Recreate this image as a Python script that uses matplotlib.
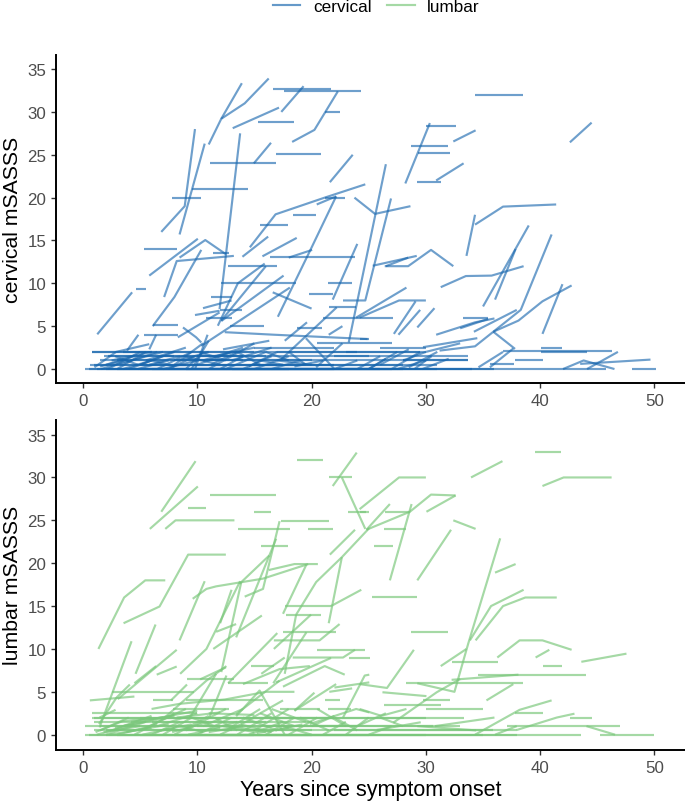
import matplotlib
matplotlib.use("Agg")
import matplotlib.pyplot as plt
from matplotlib.lines import Line2D

plt.rcParams['font.family'] = ['Liberation Sans', 'DejaVu Sans']

# ---- data: (years, score) ----
cervical_paths = [
 [(1.25,4.05),(4.3,8.95)], [(5.8,10.9),(10.05,15.2)], [(7.1,8.4),(8.2,12.6),(13.2,13.2)],
 [(8.45,13),(10.7,15.05),(12.5,13.4)], [(6.85,16),(8.9,19),(9.8,28)], [(8.45,15.7),(10.65,26.3)],
 [(11,26.2),(12.1,29.2),(14.15,31),(16.25,33.9)], [(12.1,29.2),(13.9,33.35)], [(13.1,28.1),(17.15,30.5)],
 [(17.35,30),(19.3,33)], [(18.3,26.5),(20.25,27.9),(22.3,32.4)], [(14.95,24),(16.45,26.4)],
 [(11.95,7),(13.75,27.5)], [(21.6,21.8),(23.6,25)], [(14.6,14.2),(16.85,18.05),(21.15,20),(24.7,21.55)],
 [(20.45,19.2),(22.15,20.15)], [(17.05,6.1),(19.9,13.9),(22.15,20.15)], [(13.95,13.1),(16.2,15.45)],
 [(15.7,13.15),(18.7,15.3)], [(18,13),(20.05,13.9)], [(11.8,5.05),(13.55,10),(15.9,12.3)],
 [(12.1,5.65),(16,12)], [(12.1,5.6),(17.55,10.9)], [(10.35,2.7),(18.1,9.5)], [(16.6,8.95),(20,7.05)],
 [(21.85,8.1),(24,14.6)], [(22.75,8),(24.7,8),(26.95,19.9)], [(23.25,3.1),(26.5,23.9)],
 [(6.1,5),(8,8.4),(10.35,13.9)], [(3.85,2.15),(4.85,4)], [(5.8,2.3),(6.4,4)], [(8.3,3.7),(11.95,6.6)],
 [(9.8,6.3),(11.95,6.8)], [(10.5,7.1),(13,8)], [(8.75,4.85),(9.9,3.7),(10.35,3.1)],
 [(12.4,4.3),(16.75,4),(24.9,3.5)], [(17.65,3.3),(19.6,5.45)], [(21.5,4),(22.7,5)], [(17.35,1.15),(22.2,7.2)],
 [(23.9,6),(28.3,9.5)], [(24.2,6),(27.65,8),(30,8)], [(23.75,20),(25.55,18.1),(28.65,19)],
 [(25.35,12.05),(29.2,13.2)], [(26.4,12),(28.45,12),(30.45,13.9),(32.4,12)], [(26.5,12),(28.45,13)],
 [(28.2,21.65),(30.35,28.7)], [(32.4,26.55),(34.35,27.85)], [(30.9,22),(33.3,24)], [(42.6,26.45),(44.5,28.75)],
 [(33.55,13.2),(34.3,18)], [(34.3,16.85),(36.75,18.95),(41.4,19.2)], [(31.3,9.55),(33.5,10.85),(35.75,10.9),(38.55,12)],
 [(35,7.3),(39,16.75)], [(36.05,8.1),(37.85,14)], [(31.2,2.15),(34.3,2.65),(38.3,6.9),(41,15.7)],
 [(34.2,4.35),(37.95,6.9)], [(35.9,4.35),(37.8,2.35)], [(35.9,4.35),(38.1,5.65),(40.2,7.9),(42.75,9.75)],
 [(40.2,4.1),(41.95,9.9)], [(29.25,4.85),(30.75,7.1)], [(27.2,4.1),(29.1,7.9)], [(27.6,4),(29.5,6.9)],
 [(30.9,4),(34.3,5.45),(36,5.9)], [(33,4.75),(35.45,5.85)], [(29.75,2.55),(34.5,3.6)],
 [(42,0),(43.8,1),(46.5,0)], [(44.1,0),(46.8,2)], [(43.5,0.6),(49.65,1.1)],
 [(34.6,0.2),(36.75,2)], [(35.6,0.2),(37.65,2.4)],
 [(1,0.2),(2.9,2),(5.8,2.9)], [(3,0),(5.5,2)], [(4,0),(7,1.5)], [(5,0.5),(8,2)], [(5.5,1),(9,2.5)],
 [(6.5,0),(9.5,2)], [(7,0),(10,1)], [(8,0.5),(10.5,3)], [(9,0),(10.5,2)], [(9.5,0),(11,3.3)], [(9.8,0),(10.9,4)],
 [(10,0.5),(13,2)], [(10.5,1),(14,2.5)], [(11,0),(15,3)], [(11.5,1.5),(15,2.5)], [(12,0),(14,1.5)],
 [(12.5,0),(16,2)], [(13,1),(16.5,2.5)], [(8.5,1),(11,2)], [(12.25,2.3),(16.3,3.3)], [(14,0),(16.5,1.5)],
 [(15.5,1),(17.5,0.5)], [(16,2),(18,1)], [(17,1),(20,0.5)], [(18,2),(19.5,0.5)], [(19.5,3.6),(22,0)],
 [(20.4,0.2),(22.7,3)], [(22,0),(24,1)], [(24,0),(26,1.5)], [(25,0),(26.5,1.2)], [(27,0),(29.5,2)],
 [(27.5,0),(30,1)], [(28,1),(30,2)], [(29,0),(30.5,1.5)], [(29.7,0),(32,1.2)], [(26,0.5),(28.5,2.3)],
 [(25,0),(27.5,2)], [(2,0.5),(4.5,1.5)], [(2.5,1),(6,2)], [(3.5,0),(6,1)], [(1.5,0.3),(3.5,1)], [(6,1),(8,0.3)],
 [(30,2),(33,3)], [(28.5,0.2),(31,2)],
 [(1.6,0),(4,1)], [(2.2,0),(5,2)], [(3.2,0.5),(6.5,2)], [(4.2,1),(7,2)], [(4.8,0),(7.5,1)], [(5.8,0.5),(8.5,1.5)],
 [(7.5,0),(9.8,1.5)], [(8.8,1.5),(12,0.5)], [(10.2,2),(12.5,1)], [(11.2,0.5),(13.5,2)], [(13.5,2),(15.5,0.5)],
 [(14.5,0.3),(17,2)], [(15,0),(18,1.5)], [(16.5,0),(19,1)], [(18.5,0.3),(21,1)], [(2.8,1.5),(4.8,0.5)],
]
cervical_flats = [  # start, end, score
 (4.6,5.5,9.3),(5.3,8.2,14),(11.4,12.8,13.5),(7.8,10.35,20),(9.55,14.45,21),(15.3,18.45,28.8),(16.6,21.7,32.7),
 (17.6,24.35,32.4),(21.2,22.5,30),(16.85,20.8,25.1),(11.1,16.9,24),(21.15,22.9,20),(18.35,20.4,18),(15.5,17.95,16.85),
 (16.4,23.8,13.1),(12.7,17,12),(12.1,18.6,10),(21.4,23.55,10),(19.75,21.9,8.75),(6.1,8.3,5.1),(5.35,8.3,4),
 (10.8,13,6),(11.2,13,8.4),(11.95,13.95,6.9),(12.9,15.85,5),(18.7,20.95,4.8),(21.55,23.85,7.2),(21,27.15,6),
 (30.05,32.6,28.4),(28.7,31.9,26),(29.35,32.15,25.2),(29.25,31.35,21.8),(34.3,38.5,32),(33.25,35.45,6),(24.2,25,3.5),
 (48,50.1,0),(40.1,41.95,2.45),(36.75,46.25,2.1),(40.1,44.1,2),(35.6,37.7,0.6),(37.8,40.25,1),
 (0.15,45.8,0),(1.2,26,0),(3,34,0),(6,22,0),(9,31,0),(13,27,0),(0.5,18,0),(2,28,0),(5,36,0),
 (0.6,22,0.5),(5,28,0.5),(15,31,0.5),(1.5,12,1),(8,20,1),(19,33.7,1),(28,33.7,1),(2.2,14,1.5),(10,25,1.5),
 (22,33.7,1.5),(0.75,10,2),(3.5,15,2),(10,24,2),(17,29.5,2),(23,30,2),(26,30,2.5),(15,22,2.5),(20.5,27,3),
 (1,9,0.5),(3,14,1),(1.8,8,1.5),(0.75,6,2),(8,17,0.5),(11,19,1),(7,16,1.5),
]

lumbar_paths = [
 [(1.35,10),(3.6,16),(5.45,18),(7.2,18)], [(3.55,13),(6.7,14.95),(9.2,21),(12.5,21)], [(6.85,26),(9.85,31.9)],
 [(5.85,24),(10.05,28.95)], [(7.2,24),(8.1,25),(13.25,25)], [(21.85,29),(23.95,32.9)], [(22.65,30),(24.7,24)],
 [(24.2,26.3),(27.65,30),(30,30)], [(21.6,21),(23.8,23.9)], [(8.5,7.1),(10.8,10),(13.75,17.9)], [(8.45,11),(10.65,17.9)],
 [(9.6,15.85),(10.8,17),(11.65,17.3),(15.75,18.2),(19.7,19.9)], [(14.15,16.1),(15.75,17),(17.2,24.9)], [(12,13),(13,16.9)],
 [(11.65,12),(13.4,12.9)], [(11.4,10),(15.65,13.9)], [(12.1,7.3),(13.85,17.8)], [(13.4,11.35),(16.9,22.85)],
 [(13.7,17.6),(16.3,20.9)], [(16.25,19.2),(18.5,19.9),(20.55,19.9)], [(17.5,14.1),(19.55,19.85)], [(21.7,15),(24.35,16.9)],
 [(21.5,13),(22.65,20.7)], [(18.65,14),(20.4,17.8),(22.65,20.7),(25.05,24.1)], [(17.65,7.1),(18.65,14)], [(16.65,6),(19.55,11.95)],
 [(16.7,10),(19.95,14)], [(16.7,11),(20.7,11),(22.45,12.9)], [(18.35,9),(22.75,9),(23.8,9.9)], [(12.7,6),(17,11.85)],
 [(15.6,7.1),(17.65,9)], [(16.9,6.1),(21.7,8.95)], [(14,5.9),(17.2,7.65),(19.85,8)], [(17.5,5.6),(21.15,8),(22.9,7)],
 [(1.4,1.25),(2.95,4.35),(4.1,5.85)], [(0.6,4),(4.5,4.45)], [(7.7,4),(9.1,5.85)], [(1.45,2),(2.85,2.9)], [(1.45,0.85),(4.25,10.9)],
 [(4.6,7.1),(6.35,12.85)], [(4.5,6),(6.4,8)], [(3.05,4.15),(8.2,9.9)], [(6.45,7),(8.2,7.95)], [(10.25,6.45),(12.5,7.85)],
 [(6,3),(8.45,3.6),(12.4,4.1),(16,5),(18.5,5)], [(7.15,2),(10.8,6.3),(12.55,8)], [(9.35,2),(11.65,7.1)], [(11.05,2),(12.55,6.9)],
 [(13.4,2.15),(15.45,5.15),(17.65,0)], [(14.85,2),(17.5,4)], [(13.4,2.4),(17.2,6.3)], [(18.5,2.8),(20.25,4.9)], [(18.5,2.8),(22.15,5.9)],
 [(22,5.5),(25.05,6.1)], [(21.55,5),(23.55,5.4)], [(22.75,2),(24.65,6.9),(25.05,7)], [(19.85,1.25),(23.9,3),(25.05,2.6)],
 [(24.8,23.9),(26.85,26.9)], [(24.8,23.9),(28.6,26),(30.45,28),(32.6,27.9)], [(26.85,18),(28.75,26.9)], [(29.25,18),(32.2,23.9)],
 [(30.05,26),(32.6,27.9)], [(33.95,30),(36.7,31.9)], [(40.2,29),(42.05,30),(46.25,30)], [(32.4,25),(34.35,24)], [(36.05,18.9),(37.85,19.9)],
 [(34.35,11),(36.75,15),(38.7,16),(41.45,16)], [(33.85,11),(35.7,15),(38.55,16.9)], [(24.2,5.9),(26.6,5.45),(28.95,9.9)],
 [(29.25,6),(32.5,5),(33.7,10.6),(36.5,22.9)], [(31.3,8),(33.55,10)], [(36.25,9),(38.2,11),(40.2,11),(42.75,9.9)], [(39.6,9),(40.8,9.9)],
 [(43.6,8.5),(47.55,9.45)], [(32.25,6.4),(38.1,7)], [(35.3,4),(37.65,5.9)], [(26.2,4.95),(30.05,4.5)], [(27.15,1.4),(30.95,4.95),(33,6.5)],
 [(34.3,0),(38.2,2.9),(41,4)], [(36.05,0),(37.95,1)], [(37.95,0.55),(41.45,2),(43,2.45)], [(44.05,1),(46.55,0)], [(24.2,3),(26.1,2.2),(28.3,3)],
 [(30.8,1),(36,2)], [(29.25,1),(34.4,0.5)], [(25.7,0.55),(29.55,1.45)],
 [(1.1,0.3),(3.5,1.6),(7,2)], [(1.5,0.5),(4,2)], [(2,0),(5.5,1.5)], [(2.5,0.5),(6,2.2)], [(3,0),(6.5,1.2)], [(3.5,1),(7.5,2)], [(4.5,0),(8,2.5)],
 [(5,0.5),(9,3)], [(6,0),(8.5,1.5)], [(6.5,1),(10,2.5)], [(7,0),(9.5,2)], [(8,0),(11,2.2)], [(8.5,1),(10.5,0.3)], [(9,0.5),(12.5,3)],
 [(9.5,2),(11.5,1)], [(10,0),(13,2)], [(10.5,1),(14,3)], [(11,0.3),(14,1)], [(11.5,2),(13.5,0.5)], [(12,0),(15,2)], [(12.5,0.5),(15.5,3)],
 [(13,1),(16,0.3)], [(13.5,0),(16.5,2.5)], [(14,2),(17,0.5)], [(14.5,0),(17.5,1.5)], [(15,0.5),(18,3)], [(15.5,2.5),(18.5,1)], [(16,0),(18.5,2)],
 [(16.5,3),(19.5,1.5)], [(17.5,1),(20,0)], [(18,0),(20.5,2)], [(19,2),(21.5,0.5)], [(20,1),(22,2.2)], [(20.5,3),(23,1)], [(21,0),(23,1.5)],
 [(22,2),(24,0.5)], [(23,0),(25,2)], [(24,1),(26.5,2.5)], [(25,0),(27,1)],[(26,2),(28,1)],
 [(1.2,0),(4.5,1.2)], [(1.8,0.3),(5,1)], [(2.3,0),(6,0.8)], [(3.8,0.3),(7.5,1.2)], [(5.2,0),(8,0.8)], [(6.8,0.5),(9.5,1.2)],
 [(7.8,0.3),(11,1.5)], [(9.2,0),(12,0.8)], [(10.8,0.5),(13.5,1.5)], [(12.2,1),(15,0.3)], [(13.8,1.2),(16.5,0.3)], [(15.2,0.2),(18,0.8)],
 [(16.8,0.5),(19.2,1.2)], [(2.8,0.8),(6.2,1.8)], [(4.2,1.5),(8,2.2)], [(6,1.8),(10,2.8)], [(8.2,2),(12,2.6)], [(11,2.5),(15,2.3)],
]
lumbar_flats = [  # start, end, score
 (9.2,10.8,26.4),(11.15,16.9,28),(14.95,16.45,26),(13.55,18.1,24),(19.7,21.85,24),(18.75,21,32),(21.55,23.55,30),(23.2,25,26),
 (15.55,17.95,22),(17.3,21.5,24.9),(17.65,21.7,15),(17.75,20.8,14),(17.5,22.15,11.95),(20.5,24.7,9.9),(23.25,25.1,9),(14.7,16.75,8),
 (12.7,16.2,6),(2.55,9.75,5),(6.1,7.9,4),(9.1,13.2,6.45),(9.05,15.75,4),(7.85,12.8,3),(17.2,20.7,3),(21.2,22.5,4),(21.45,23.45,3),
 (24.2,24.8,26),(26.4,28.6,26),(26.3,28.3,24),(25.45,27.15,22),(39.55,41.85,33),(25.3,29.25,16),(28.7,31.9,12),(32.3,36.3,8.45),
 (40.25,41.95,8),(34.6,44.05,7),(28.25,38.5,6),(29.75,32.1,4),(26.3,31.3,3.45),(30,35,3),(37.8,40.25,2.5),(42.6,44.5,2),(37.1,44.05,1),
 (44.05,47,1),(45.2,50,0),(0.15,43.6,0),(2,30,0),(5,25,0),(8,35,0),(1,20,0.5),(7,35.9,0.5),(0.15,12,1),(10,30.65,1),(1,16,1.5),
 (0.75,33.35,2),(5,22,2),(0.8,10,2.5),(0.5,15,0),(3,20,0),(12,38,0),(2,13,0.5),(1.5,24,1),(6,20,1.5),(7,30,2),(1,6,2),(16,33,1),(22,38,0.5),
]

x_ticks = [0, 10, 20, 30, 40, 50]
y_ticks = [0, 5, 10, 15, 20, 25, 30, 35]
panel_labels = ["cervical mSASSS", "lumbar mSASSS"]
legend_labels = ["cervical", "lumbar"]
x_label = "Years since symptom onset"

W, H = 685, 804
CERV, LUMB = "#1665ad", "#7ac77b"
LW = 1.55
fig = plt.figure(figsize=(W/100, H/100), dpi=100)

def make_ax(top, bottom):
    return fig.add_axes([56/W, 1-bottom/H, (W-56)/W, (bottom-top)/H])

ax1 = make_ax(56, 384)
ax2 = make_ax(421, 750.7)

def draw(ax, paths, flats, color, alpha):
    for p in paths:
        xs, ys = zip(*p)
        ax.plot(xs, ys, color=color, alpha=alpha, lw=LW, solid_capstyle='butt', solid_joinstyle='round')
    for a, b, v in flats:
        ax.plot([a, b], [v, v], color=color, alpha=alpha, lw=LW, solid_capstyle='butt')

draw(ax1, cervical_paths, cervical_flats, CERV, 0.62)
draw(ax2, lumbar_paths, lumbar_flats, LUMB, 0.68)

for ax, lab, ylim in zip((ax1, ax2), panel_labels, ((-1.63, 36.64), (-1.75, 36.7))):
    ax.set_xlim(-2.36, 52.67)
    ax.set_ylim(*ylim)
    ax.set_xticks(x_ticks)
    ax.set_yticks(y_ticks)
    ax.tick_params(labelsize=12.2, labelcolor="#4d4d4d", color="#333333", length=3.6, width=1.0, pad=3.5)
    for s in ("top", "right"):
        ax.spines[s].set_visible(False)
    for s in ("left", "bottom"):
        ax.spines[s].set_linewidth(1.4)
        ax.spines[s].set_color("black")
    ax.set_ylabel(lab, fontsize=15.3, color="black", va="center")
    ax.yaxis.set_label_coords(-43/629, 0.5)

ax2.set_xlabel(x_label, fontsize=15.5, color="black", va="center")
ax2.xaxis.set_label_coords(0.5, -40/329.7)

handles = [Line2D([], [], color=CERV, alpha=0.66, lw=LW), Line2D([], [], color=LUMB, alpha=0.68, lw=LW)]
fig.legend(handles, legend_labels, loc="center", bbox_to_anchor=(376.5/W, 1-7/H), ncol=2, frameon=False,
           fontsize=12.3, handlelength=1.6, handletextpad=0.75, columnspacing=0.9, borderpad=0, borderaxespad=0)

fig.savefig("out.png", dpi=100)
